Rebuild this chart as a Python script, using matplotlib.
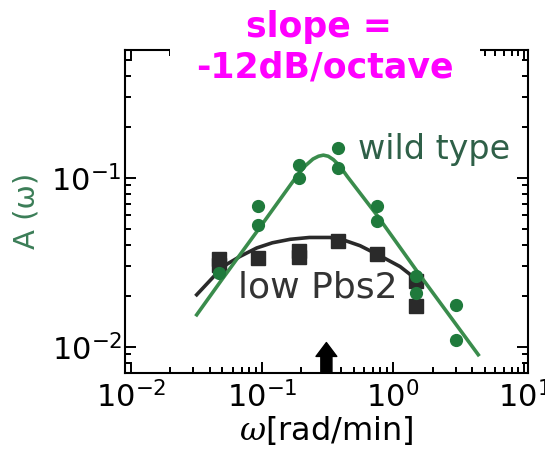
import numpy as np
import matplotlib
matplotlib.use("Agg")
import matplotlib.pyplot as plt
from matplotlib.ticker import FixedLocator, NullFormatter

plt.rcParams['font.family'] = ['DejaVu Sans']
plt.rcParams['mathtext.fontset'] = 'custom'
plt.rcParams['mathtext.rm'] = 'DejaVu Sans'
plt.rcParams['mathtext.it'] = 'DejaVu Serif:italic'

# measured points, wild type (green circles)
wt_x = [0.047, 0.094, 0.094, 0.19, 0.19, 0.38, 0.38, 0.75, 0.75, 1.5, 1.5, 3.0, 3.0]
wt_y = [0.0273, 0.0676, 0.0527, 0.119, 0.0996, 0.150, 0.114, 0.0676, 0.0551,
        0.0261, 0.0208, 0.0177, 0.0110]

# measured points, low Pbs2 (black squares)
pbs_x = [0.047, 0.047, 0.094, 0.19, 0.19, 0.38, 0.75, 1.5, 1.5]
pbs_y = [0.033, 0.0303, 0.0335, 0.0367, 0.0341, 0.0425, 0.0355, 0.0246, 0.0175]

# fitted curves
wt_fit_x = [0.0318, 0.0492, 0.0966, 0.184, 0.215, 0.245, 0.27, 0.294, 0.32, 0.35, 0.39, 0.446,
            0.752, 1.52, 4.46]
wt_fit_y = [0.01545, 0.0248, 0.0509, 0.102, 0.118, 0.129, 0.134, 0.136, 0.134, 0.128, 0.118, 0.102,
            0.0601, 0.0280, 0.00897]

pbs_fit_x = [0.0318, 0.0507, 0.068, 0.0912, 0.12, 0.164, 0.23, 0.330, 0.43, 0.560, 0.796, 1.13, 1.52]
pbs_fit_y = [0.0203, 0.0299, 0.0342, 0.0384, 0.0412, 0.0432, 0.0443, 0.0443, 0.0425, 0.0396,
             0.0345, 0.0298, 0.0249]

arrow_x = 0.31

green_line = '#3a8c4c'
green_dot = '#1f7a3c'
dark = '#2a2a2a'

fig = plt.figure(figsize=(5.45, 4.57), dpi=100)
ax = fig.add_axes([0.229, 0.184, 0.740, 0.707])

ax.plot(pbs_x, pbs_y, 's', color=dark, ms=9.5, zorder=2)
ax.plot(pbs_fit_x, pbs_fit_y, '-', color=dark, lw=2.6, zorder=3)
ax.plot(wt_fit_x, wt_fit_y, '-', color=green_line, lw=2.6, zorder=4)
ax.plot(wt_x, wt_y, 'o', color=green_dot, ms=8.5, zorder=5)

ax.set_xscale('log')
ax.set_yscale('log')
xlim = (0.0090, 10.7)
ylim = (0.0070, 0.571)
ax.set_xlim(*xlim)
ax.set_ylim(*ylim)

# log minor ticks (2..9 in each decade)
minor_ticks = [m * 10.0 ** e for e in range(-3, 2) for m in range(2, 10)]
for axis in (ax.xaxis, ax.yaxis):
    axis.set_minor_locator(FixedLocator(minor_ticks))
    axis.set_minor_formatter(NullFormatter())

ax.tick_params(which='both', direction='in', top=True, right=True, width=1.4, labelsize=22)
ax.tick_params(which='major', length=8)
ax.tick_params(which='minor', length=4.5)
ax.tick_params(axis='x', pad=6)
ax.tick_params(axis='y', pad=2)
for s in ax.spines.values():
    s.set_linewidth(1.5)

# minor tick marks drawn as short segments too, so they always show
mx = [v for v in minor_ticks if xlim[0] < v < xlim[1]]
my = [v for v in minor_ticks if ylim[0] < v < ylim[1]]
tx = 6.0 / 323
ty = 6.0 / 403
ax.vlines(mx, 0, tx, transform=ax.get_xaxis_transform(), color='black', lw=1.4, zorder=6)
ax.vlines(mx, 1 - tx, 1, transform=ax.get_xaxis_transform(), color='black', lw=1.4, zorder=6)
ax.hlines(my, 0, ty, transform=ax.get_yaxis_transform(), color='black', lw=1.4, zorder=6)
ax.hlines(my, 1 - ty, 1, transform=ax.get_yaxis_transform(), color='black', lw=1.4, zorder=6)

ax.set_xlabel(r'$\omega$[rad/min]', fontsize=23, labelpad=0)
ax.set_ylabel(u'A (\u03c9)', fontsize=21, color='#3b7d57', labelpad=8)

ax.text(0.541, 0.129, 'wild type', fontsize=24, color='#2f6048', ha='left', va='baseline')
ax.text(0.0659, 0.0195, 'low Pbs2', fontsize=26, color='#333333', ha='left', va='baseline')

# black arrow marking the frequency on the x axis
ax.annotate('', xy=(arrow_x, 0.094), xycoords=('data', 'axes fraction'),
            xytext=(arrow_x, 0.0), textcoords=('data', 'axes fraction'),
            arrowprops=dict(facecolor='black', edgecolor='black', width=8,
                            headwidth=15, headlength=10, shrink=0))

fig.text(0.596, 0.896, 'slope = \n-12dB/octave', fontsize=25, fontweight='bold',
         color='#ff00ff', ha='center', va='center', multialignment='center',
         linespacing=1.25, zorder=10,
         bbox=dict(boxstyle='square,pad=0.75', facecolor='white', edgecolor='none'))

fig.savefig('out.png', dpi=100)
